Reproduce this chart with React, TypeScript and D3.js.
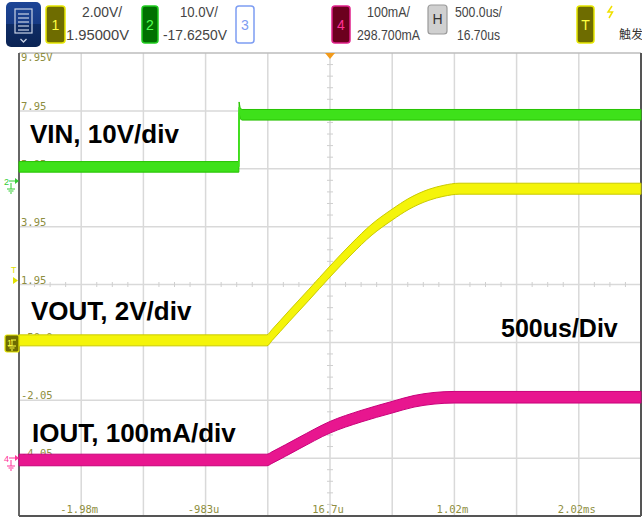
import React from 'react';
import * as d3 from 'd3';

const W = 642;
const H = 518;

// horizontal time axis (ms): 500 us/div, 10 divisions, centre at 16.7 us
const tStart = -2.4833;
const tEnd = 2.5167;
const timeTickDivs = [-4, -2, 0, 2, 4];
const timeTickLabels = ['-1.98m', '-983u', '16.7u', '1.02m', '2.02ms'];

// vertical grid labels (channel 1 scale)
const yTickDivs = [4, 3, 2, 1, 0, -1, -2, -3];
const yTickLabels = ['9.95V', '7.95', '5.95', '3.95', '1.95', '-50.0m', '-2.05', '-4.05'];

// channel scale / offset
const ch1PerDiv = 2;
const ch1Offset = 1.95;
const ch2PerDiv = 10;
const ch2Offset = -17.625;
const ch4PerDiv = 100;
const ch4Offset = 298.7;

// VIN (channel 2, volts)
const vinTime = [-2.4833, -0.716, -0.714, -0.705, -0.69, 2.5167];
const vinVolts = [2.7, 2.7, 13.0, 11.9, 11.7, 11.7];

// VOUT (channel 1, volts)
const voutTime = [-2.4833, -0.49, -0.45, -0.313, -0.152, 0.017, 0.185, 0.354, 0.515, 0.652, 0.812, 0.933, 1.054, 2.5167];
const voutVolts = [0.02, 0.02, 0.2, 0.85, 1.6, 2.4, 3.16, 3.85, 4.36, 4.74, 5.05, 5.19, 5.26, 5.26];

// IOUT (channel 4, mA)
const ioutTime = [-2.4833, -0.49, -0.45, -0.232, 0.017, 0.266, 0.515, 0.692, 0.853, 1.014, 2.5167];
const ioutMilliamps = [-4.5, -4.5, -0.4, 24.6, 52.1, 71.1, 86.6, 96.9, 102.1, 103.9, 103.9];

// header readouts
const headerTexts = ['2.00V/', '1.95000V', '10.0V/', '-17.6250V', '100mA/', '298.700mA', '500.0us/', '16.70us'];

const plotLeft = 19;
const plotRight = 641;
const plotTop = 53;
const plotBottom = 516;

const x = d3.scaleLinear().domain([tStart, tEnd]).range([plotLeft, plotRight]);
const yDiv = d3.scaleLinear().domain([-4, 4]).range([plotBottom, plotTop]);

type Pt = { t: number; d: number };

function toPts(ts: number[], vs: number[], perDiv: number, offset: number): Pt[] {
  return ts.map((t, i) => ({ t, d: (vs[i] - offset) / perDiv }));
}

const vinPts = toPts(vinTime, vinVolts, ch2PerDiv, ch2Offset);
const voutPts = toPts(voutTime, voutVolts, ch1PerDiv, ch1Offset);
const ioutPts = toPts(ioutTime, ioutMilliamps, ch4PerDiv, ch4Offset);

function band(pts: Pt[], hh: number, curve: any) {
  return d3
    .area<Pt>()
    .x((p) => x(p.t))
    .y0((p) => yDiv(p.d) - hh)
    .y1((p) => yDiv(p.d) + hh)
    .curve(curve)(pts) as string;
}

const lineGen = d3
  .line<Pt>()
  .x((p) => x(p.t))
  .y((p) => yDiv(p.d));

const headerFont = 'Liberation Sans, Arial, sans-serif';
const monoFont = 'DejaVu Sans Mono, monospace';
const gridLabelColor = '#8e8e40';

// layout for header readouts: [x, baseline, width]
const headerLayout = [
  [82, 17, 40],
  [66, 40, 63],
  [180, 17, 38],
  [163, 40, 64],
  [367, 17, 43],
  [357, 40, 63],
  [455, 17, 47],
  [457, 40, 43],
];

function ChanBox({ x0, y0, w, h, fill, stroke, label, color }: any) {
  return (
    <g>
      <rect x={x0} y={y0} width={w} height={h} rx={3} fill={fill} stroke={stroke} strokeWidth={1.5} />
      <text x={x0 + w / 2} y={y0 + h / 2 + 5} textAnchor="middle" fontFamily={headerFont} fontSize={14} fill={color}>
        {label}
      </text>
    </g>
  );
}

function Ground({ gx, gy, color }: any) {
  return (
    <g stroke={color} strokeWidth={1} fill="none">
      <line x1={gx} y1={gy} x2={gx} y2={gy + 6} />
      <line x1={gx - 4} y1={gy + 6} x2={gx + 4} y2={gy + 6} />
      <line x1={gx - 2.5} y1={gy + 8} x2={gx + 2.5} y2={gy + 8} />
      <line x1={gx - 1} y1={gy + 10} x2={gx + 1} y2={gy + 10} />
    </g>
  );
}

export default function App() {
  const vGrid = d3.range(1, 10).map((k) => plotLeft + (k * (plotRight - plotLeft)) / 10);
  const hGrid = d3.range(-3, 4).map((k) => yDiv(k));
  const xCenter = x(0.0167);
  const yCenter = yDiv(0);
  const divW = (plotRight - plotLeft) / 10;
  const divH = (plotBottom - plotTop) / 8;
  const hMinor = d3.range(-20, 21).filter((k) => k % 4 !== 0).map((k) => xCenter + (k * divW) / 4);
  const vMinor = d3.range(-20, 21).filter((k) => k % 5 !== 0).map((k) => yCenter + (k * divH) / 5);

  return (
    <svg width={W} height={H} style={{ position: 'absolute', left: 0, top: 0, background: '#fff' }}>
      <rect x={0} y={0} width={W} height={H} fill="#fff" />
      <defs>
        <linearGradient id="menuGrad" x1="0" y1="0" x2="0" y2="1">
          <stop offset="0" stopColor="#1d4596" />
          <stop offset="0.5" stopColor="#173b85" />
          <stop offset="0.5" stopColor="#0e2c66" />
          <stop offset="1" stopColor="#0b2454" />
        </linearGradient>
      </defs>

      {/* header */}
      <rect x={6} y={2} width={35} height={45} rx={5} fill="url(#menuGrad)" />
      <g stroke="#c9d2e4" strokeWidth={1.2} fill="none">
        <rect x={15} y={9} width={17} height={24} />
        <line x1={18} y1={14} x2={29} y2={14} />
        <line x1={18} y1={18} x2={29} y2={18} />
        <line x1={18} y1={22} x2={29} y2={22} />
        <line x1={18} y1={26} x2={29} y2={26} />
        <line x1={18} y1={30} x2={29} y2={30} />
      </g>
      <path d="M20.5,39 L23.5,42 L26.5,39" stroke="#c9d2e4" strokeWidth={1.3} fill="none" />

      <g fontFamily={headerFont} fontSize={14} fill="#444">
        {headerTexts.map((s, i) => (
          <text
            key={'ht' + i}
            x={headerLayout[i][0]}
            y={headerLayout[i][1]}
            textLength={headerLayout[i][2]}
            lengthAdjust="spacingAndGlyphs"
          >
            {s}
          </text>
        ))}
      </g>

      <ChanBox x0={46} y0={6} w={19} h={37} fill="#6e6c00" stroke="#e6e600" label="1" color="#ffff40" />
      <ChanBox x0={142} y0={6} w={16} h={37} fill="#007000" stroke="#1fcc1f" label="2" color="#55ff55" />
      <ChanBox x0={236} y0={6} w={18} h={37} fill="#fff" stroke="#7d9df2" label="3" color="#7d9df2" />
      <ChanBox x0={332} y0={6} w={18} h={37} fill="#6c001e" stroke="#e0208a" label="4" color="#ff3399" />

      <rect x={428} y={5} width={19} height={29} rx={3} fill="#d0d0d0" stroke="#9a9a9a" strokeWidth={1.2} />
      <text x={437.5} y={24} textAnchor="middle" fontFamily={headerFont} fontSize={14} fill="#333">H</text>

      <ChanBox x0={577} y0={6} w={17} h={37} fill="#6e6c00" stroke="#e6e600" label="T" color="#ffff40" />
      <path d="M612,6 L608,12 L612.5,12 L609,18" stroke="#f0e000" strokeWidth={1.5} fill="none" />
      <text x={619} y={39} fontFamily="Noto Sans CJK SC, sans-serif" fontSize={12} fill="#333">触发</text>

      {/* grid */}
      <g stroke="#d9d9d9" strokeWidth={1.5}>
        {vGrid.map((gx, i) => (
          <line key={'v' + i} x1={gx} y1={plotTop} x2={gx} y2={plotBottom} />
        ))}
        {hGrid.map((gy, i) => (
          <line key={'h' + i} x1={plotLeft} y1={gy} x2={plotRight} y2={gy} />
        ))}
      </g>
      <g stroke="#cfcfcf" strokeWidth={1}>
        {hMinor.map((mx, i) => (
          <line key={'hm' + i} x1={mx} y1={yCenter - 2.5} x2={mx} y2={yCenter + 2.5} />
        ))}
        {vMinor.map((my, i) => (
          <line key={'vm' + i} x1={xCenter - 3} y1={my} x2={xCenter + 3} y2={my} />
        ))}
      </g>
      <line x1={plotLeft} y1={plotTop} x2={plotRight} y2={plotTop} stroke="#bdbdbd" strokeWidth={1.5} />
      <line x1={plotLeft} y1={plotTop} x2={plotLeft} y2={plotBottom} stroke="#666" strokeWidth={2} />
      <line x1={plotLeft} y1={plotBottom} x2={plotRight} y2={plotBottom} stroke="#555" strokeWidth={2} />
      <line x1={plotRight} y1={plotTop} x2={plotRight} y2={plotBottom} stroke="#555" strokeWidth={2} />

      {/* grid labels */}
      {yTickDivs.map((d, i) => (
        <text key={'yl' + i} x={21} y={d === 4 ? 61 : yDiv(d) - 1} fontFamily={monoFont} fontSize={10.5} fill={gridLabelColor}>
          {yTickLabels[i]}
        </text>
      ))}
      {timeTickDivs.map((d, i) => (
        <text key={'xl' + i} x={xCenter + d * divW - 2} y={513} textAnchor="middle" fontFamily={monoFont} fontSize={10.5} fill={gridLabelColor}>
          {timeTickLabels[i]}
        </text>
      ))}

      {/* trigger position marker */}
      <path d={`M${xCenter - 5},53 L${xCenter + 5},53 L${xCenter},59 Z`} fill="#f29a1a" />

      {/* traces */}
      <path d={band(vinPts, 5.3, d3.curveLinear)} fill="#3ee11a" stroke="#26c200" strokeWidth={1} />
      <path d={lineGen(vinPts.slice(1, 4)) as string} fill="none" stroke="#3ee11a" strokeWidth={1.6} />
      <path d={band(voutPts, 5.5, d3.curveMonotoneX)} fill="#f4f40a" stroke="#caca00" strokeWidth={1} />
      <path d={band(ioutPts, 5.8, d3.curveMonotoneX)} fill="#e8168f" stroke="#c8007a" strokeWidth={1} />

      {/* left channel markers */}
      <text x={4} y={185} fontFamily={headerFont} fontSize={9} fill="#33cc33">2</text>
      <path d="M9,181 L17,181" stroke="#33cc33" strokeWidth={1} />
      <path d="M15,178 L19,181 L15,184 Z" fill="#33cc33" />
      <Ground gx={11} gy={183} color="#33cc33" />

      <text x={11} y={273} fontFamily={headerFont} fontSize={9} fill="#e0e000">T</text>
      <path d="M13,277 L18,280.5 L13,284 Z" fill="#e0e000" />

      <rect x={5} y={335} width={14} height={17} rx={2} fill="#6e6c00" stroke="#e6e600" strokeWidth={1.2} />
      <text x={7} y={346} fontFamily={headerFont} fontSize={9} fill="#ffff40">1</text>
      <path d="M11,340 L16,340" stroke="#ffff40" strokeWidth={1} />
      <Ground gx={12} gy={340} color="#ffff40" />

      <text x={4} y={462} fontFamily={headerFont} fontSize={9} fill="#ff3399">4</text>
      <path d="M9,458 L17,458" stroke="#ff3399" strokeWidth={1} />
      <path d="M15,455 L19,458 L15,461 Z" fill="#ff3399" />
      <Ground gx={11} gy={460} color="#ff3399" />

      {/* annotations */}
      <g fontFamily={headerFont} fontWeight="bold" fontSize={26} fill="#000">
        <text x={30} y={143}>VIN, 10V/div</text>
        <text x={31} y={320}>VOUT, 2V/div</text>
        <text x={32} y={442}>IOUT, 100mA/div</text>
        <text x={501} y={337} fontSize={25}>500us/Div</text>
      </g>
    </svg>
  );
}
